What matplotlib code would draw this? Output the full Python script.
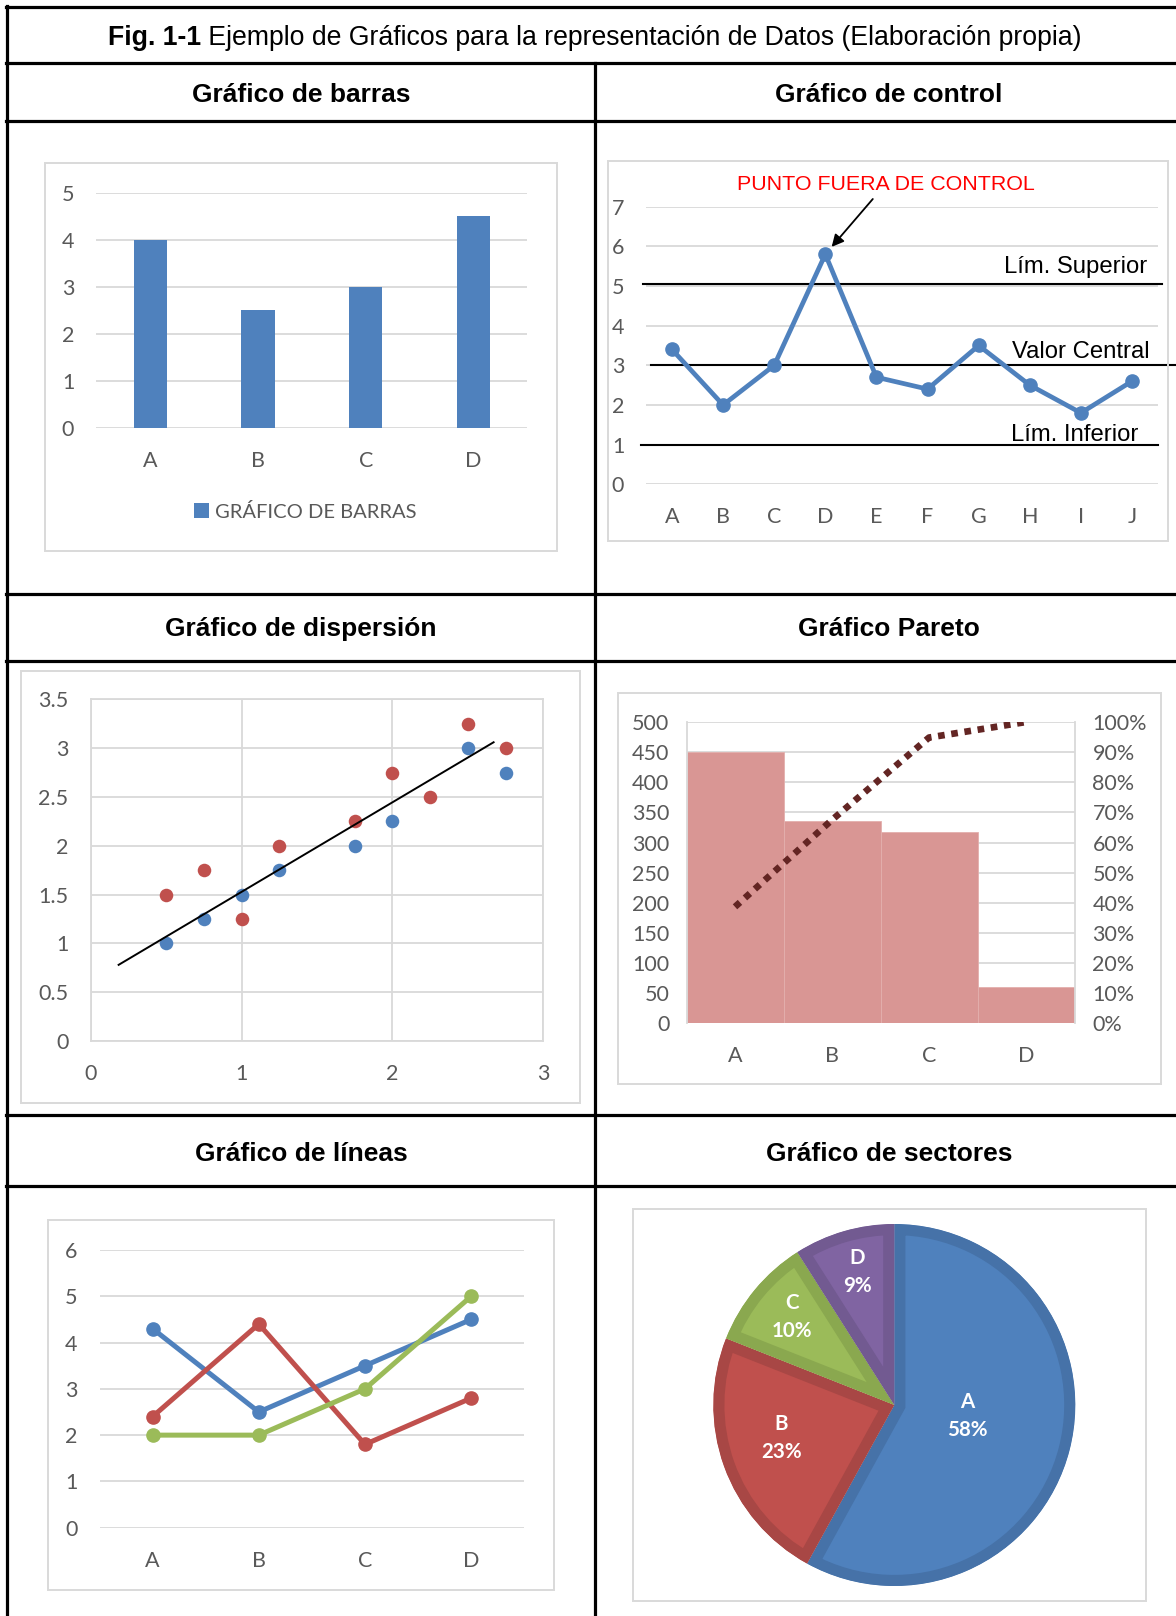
import numpy as np
import matplotlib
matplotlib.use("Agg")
import matplotlib.pyplot as plt
from matplotlib.lines import Line2D
from matplotlib.patches import Rectangle, Wedge
from matplotlib.ticker import FuncFormatter

# ---------------- data ----------------
bar_categories = ["A", "B", "C", "D"]
bar_values = [4, 2.5, 3, 4.5]
bar_legend = "GRÁFICO DE BARRAS"

control_categories = ["A", "B", "C", "D", "E", "F", "G", "H", "I", "J"]
control_values = [3.4, 2.0, 3.0, 5.8, 2.7, 2.4, 3.5, 2.5, 1.8, 2.6]
control_upper = 5.05
control_center = 3.0
control_lower = 1.0

scatter_blue_x = [0.5, 0.75, 1, 1.25, 1.75, 2, 2.5, 2.75]
scatter_blue_y = [1, 1.25, 1.5, 1.75, 2, 2.25, 3, 2.75]
scatter_red_x = [0.5, 0.75, 1, 1.25, 1.75, 2, 2.25, 2.5, 2.75]
scatter_red_y = [1.5, 1.75, 1.25, 2, 2.25, 2.75, 2.5, 3.25, 3]
trend_x = [0.185, 2.67]
trend_y = [0.78, 3.06]

pareto_categories = ["A", "B", "C", "D"]
pareto_values = [450, 336, 318, 60]

line_categories = ["A", "B", "C", "D"]
line_blue = [4.3, 2.5, 3.5, 4.5]
line_red = [2.4, 4.4, 1.8, 2.8]
line_green = [2.0, 2.0, 3.0, 5.0]

pie_categories = ["A", "B", "C", "D"]
pie_values = [58, 23, 10, 9]

title_bold = "Fig. 1-1"
title_rest = " Ejemplo de Gráficos para la representación de Datos (Elaboración propia)"
headers = ["Gráfico de barras", "Gráfico de control",
           "Gráfico de dispersión", "Gráfico Pareto",
           "Gráfico de líneas", "Gráfico de sectores"]

# ---------------- style ----------------
BLUE = "#4F81BD"
RED = "#C0504D"
GREEN = "#9BBB59"
PURPLE = "#8064A2"
PINK = "#D99694"
DARKRED = "#632523"
GRID = "#D9D9D9"
TICK = "#595959"
TS = 15.5
XPAD = 16.5
HEAD_FONT = "Liberation Sans"

plt.rcParams["font.family"] = ["Lato", "DejaVu Sans"]

W, H = 1176, 1616
fig = plt.figure(figsize=(W / 100, H / 100), dpi=100)
fig.patch.set_facecolor("white")


def fx(x):
    return x / W


def fy(y):
    return 1 - y / H


def add_ax(l, t, r, b):
    return fig.add_axes([l / W, 1 - b / H, (r - l) / W, (b - t) / H])


def excel_style(ax, xpad=XPAD, ypad=16):
    for s in ax.spines.values():
        s.set_visible(False)
    ax.tick_params(axis="both", length=0, colors=TICK, labelsize=TS)
    ax.tick_params(axis="x", pad=xpad)
    ax.tick_params(axis="y", pad=ypad)
    ax.yaxis.grid(True, color=GRID, lw=1.3)
    ax.set_axisbelow(True)
    ax.patch.set_alpha(0)


# ---------------- table frame ----------------
TAB_LW = 2.3
for y in [7, 63, 121, 594, 661, 1115, 1186]:
    fig.add_artist(Line2D([fx(5.9), fx(1180)], [fy(y), fy(y)], color="black",
                          lw=TAB_LW, transform=fig.transFigure))
fig.add_artist(Line2D([fx(7), fx(7)], [fy(5.9), fy(1620)], color="black",
                      lw=TAB_LW, transform=fig.transFigure))
fig.add_artist(Line2D([fx(595), fx(595)], [fy(63), fy(1620)], color="black",
                      lw=TAB_LW, transform=fig.transFigure))

# title with bold prefix
renderer = fig.canvas.get_renderer()
t1 = fig.text(0, fy(38), title_bold, fontsize=19.2, weight="bold",
              family=HEAD_FONT, va="center", ha="left")
t2 = fig.text(0, fy(38), title_rest, fontsize=19.2, family=HEAD_FONT,
              va="center", ha="left")
w1 = t1.get_window_extent(renderer).width
w2 = t2.get_window_extent(renderer).width
x0 = 595 - (w1 + w2) / 2
t1.set_x(fx(x0))
t2.set_x(fx(x0 + w1))

header_pos = [(301, 94.5), (889, 94.5), (301, 629.5), (889, 629.5),
              (301, 1154), (889, 1154)]
for txt, (hx, hy) in zip(headers, header_pos):
    fig.text(fx(hx), fy(hy), txt, fontsize=19, weight="bold", family=HEAD_FONT,
             ha="center", va="center")

# chart frames
for (l, t, r, b) in [(44.5, 163.5, 557, 550.5), (608, 161, 1168, 540.5),
                     (20.5, 670.5, 580, 1103), (618, 692.7, 1160.6, 1084),
                     (47.5, 1220, 553.5, 1590), (633, 1209, 1146, 1601)]:
    fig.add_artist(Rectangle((fx(l), fy(b)), (r - l) / W, (b - t) / H,
                             transform=fig.transFigure, facecolor="none",
                             edgecolor=GRID, lw=1.4))

# ---------------- bar chart ----------------
ax = add_ax(96.4, 192.7, 527.4, 427.7)
excel_style(ax)
xb = np.arange(len(bar_categories))
ax.bar(xb, bar_values, width=0.31, color=BLUE, label=bar_legend, zorder=2)
ax.set_xlim(-0.5, len(bar_categories) - 0.5)
ax.set_ylim(0, 5)
ax.set_yticks(range(0, 6))
ax.set_xticks(xb)
ax.set_xticklabels(bar_categories)
ax.legend(loc="center", bbox_to_anchor=(fx(305), fy(511.7)),
          bbox_transform=fig.transFigure, frameon=False, fontsize=14.5,
          handlelength=0.75, handleheight=0.75, handletextpad=0.3,
          labelcolor=TICK, borderpad=0)

# ---------------- control chart ----------------
ax = add_ax(646.4, 206.7, 1157.6, 484.3)
excel_style(ax)
xc = np.arange(len(control_categories))
ax.plot(xc, control_values, color=BLUE, lw=3.4, marker="o", ms=9.5,
        solid_joinstyle="round", zorder=3)
ax.set_xlim(-0.5, len(control_categories) - 0.5)
ax.set_ylim(0, 7)
ax.set_yticks(range(0, 8))
ax.set_xticks(xc)
ax.set_xticklabels(control_categories)
ax.axhline(control_upper, xmin=-0.0067, xmax=1.0094, color="black", lw=1.5,
           clip_on=False, zorder=2)
ax.axhline(control_center, xmin=0.0082, xmax=1.05, color="black", lw=1.5,
           clip_on=False, zorder=2)
ax.axhline(control_lower, xmin=-0.0113, xmax=1.0008, color="black", lw=1.5,
           clip_on=False, zorder=2)
fig.text(fx(1147), fy(267), "Lím. Superior", fontsize=17.2, family=HEAD_FONT,
         ha="right", va="center")
fig.text(fx(1149.5), fy(352), "Valor Central", fontsize=17.2, family=HEAD_FONT,
         ha="right", va="center")
fig.text(fx(1138.5), fy(435), "Lím. Inferior", fontsize=17.2, family=HEAD_FONT,
         ha="right", va="center")
fig.text(fx(885.4), fy(184.5), "PUNTO FUERA DE CONTROL", fontsize=15.4,
         family=HEAD_FONT, color="#FF0000", ha="center", va="center")
ax.annotate("", xy=(3, control_values[3]), xycoords="data",
            xytext=(872.8, H - 199), textcoords="figure pixels",
            arrowprops=dict(arrowstyle="-|>", color="black", lw=1.3,
                            shrinkA=0, shrinkB=7, mutation_scale=18),
            annotation_clip=False)

# ---------------- scatter chart ----------------
ax = add_ax(90.7, 699.3, 543.4, 1041)
excel_style(ax)
ax.xaxis.grid(True, color=GRID, lw=1.3)
for s in ax.spines.values():
    s.set_visible(True)
    s.set_color(GRID)
    s.set_linewidth(1.3)
ax.scatter(scatter_blue_x, scatter_blue_y, s=95, color=BLUE, zorder=3, linewidths=0)
ax.scatter(scatter_red_x, scatter_red_y, s=95, color=RED, zorder=3, linewidths=0)
ax.plot(trend_x, trend_y, color="black", lw=1.4, zorder=4)
ax.set_xlim(0, 3)
ax.set_ylim(0, 3.5)
ax.set_xticks([0, 1, 2, 3])
ax.set_yticks(np.arange(0, 3.51, 0.5))
ax.yaxis.set_major_formatter(FuncFormatter(lambda v, p: f"{v:g}"))

# ---------------- pareto chart ----------------
ax = add_ax(686.5, 722, 1074.6, 1023.3)
excel_style(ax, ypad=12.4)
for side in ["left", "right"]:
    ax.spines[side].set_visible(True)
    ax.spines[side].set_color(GRID)
    ax.spines[side].set_linewidth(1.3)
xp = np.arange(len(pareto_categories))
ax.bar(xp, pareto_values, width=1.0, color=PINK, edgecolor="#E3AFAD", lw=0.6,
       zorder=2)
ax.set_xlim(-0.5, len(pareto_categories) - 0.5)
ax.set_ylim(0, 500)
ax.set_yticks(range(0, 501, 50))
ax.set_xticks(xp)
ax.set_xticklabels(pareto_categories)
cum = np.cumsum(pareto_values) / np.sum(pareto_values)
ax2 = ax.twinx()
ax2.set_position(ax.get_position())
for s in ax2.spines.values():
    s.set_visible(False)
ax2.plot(xp, cum, color=DARKRED, lw=4.8, ls=(0, (1, 1.0)),
         dash_capstyle="butt", zorder=3)
ax2.set_ylim(0, 1)
ax2.set_yticks(np.arange(0, 1.001, 0.1))
ax2.yaxis.set_major_formatter(FuncFormatter(lambda v, p: f"{v * 100:.0f}%"))
ax2.tick_params(axis="y", length=0, colors=TICK, labelsize=TS, pad=12.8)

# ---------------- line chart ----------------
ax = add_ax(99.5, 1250, 524.3, 1527.7)
excel_style(ax)
xl = np.arange(len(line_categories))
for vals, col, z in [(line_blue, BLUE, 3), (line_red, RED, 4), (line_green, GREEN, 5)]:
    ax.plot(xl, vals, color=col, lw=3.6, marker="o", ms=9.5, zorder=z,
            solid_joinstyle="round")
ax.set_xlim(-0.5, len(line_categories) - 0.5)
ax.set_ylim(0, 6)
ax.set_yticks(range(0, 7))
ax.set_xticks(xl)
ax.set_xticklabels(line_categories)

# ---------------- pie chart ----------------
PIE_CX, PIE_CY, PIE_R = 894.3, 1405, 181
ax = add_ax(PIE_CX - 200, PIE_CY - 200, PIE_CX + 200, PIE_CY + 200)
fills = [BLUE, RED, GREEN, PURPLE]
borders = ["#4672A8", "#A84745", "#8AA84F", "#725A91"]
wedges, _ = ax.pie(pie_values, startangle=90, counterclock=False, radius=PIE_R,
                   colors=fills, wedgeprops=dict(linewidth=16))
ax.set_xlim(-200, 200)
ax.set_ylim(-200, 200)
ax.set_aspect("equal")
ax.axis("off")
for w, ec in zip(wedges, borders):
    w.set_edgecolor(ec)
    # keep the thick edge inside the slice: clip the stroke to the slice shape
    clip = Wedge(w.center, w.r, w.theta1, w.theta2, transform=ax.transData)
    w.set_clip_on(True)
    w.set_clip_path(clip)
label_offsets = [(72.9, -10.8), (-113, -32.7), (-102.6, 88), (-37.1, 133.3)]
for cat, val, (ox, oy) in zip(pie_categories, pie_values, label_offsets):
    ax.text(ox, oy, f"{cat}\n{val}%", color="white", fontsize=14.8,
            weight="bold", ha="center", va="center", linespacing=1.5)

fig.savefig("out.png", dpi=100, facecolor="white")
